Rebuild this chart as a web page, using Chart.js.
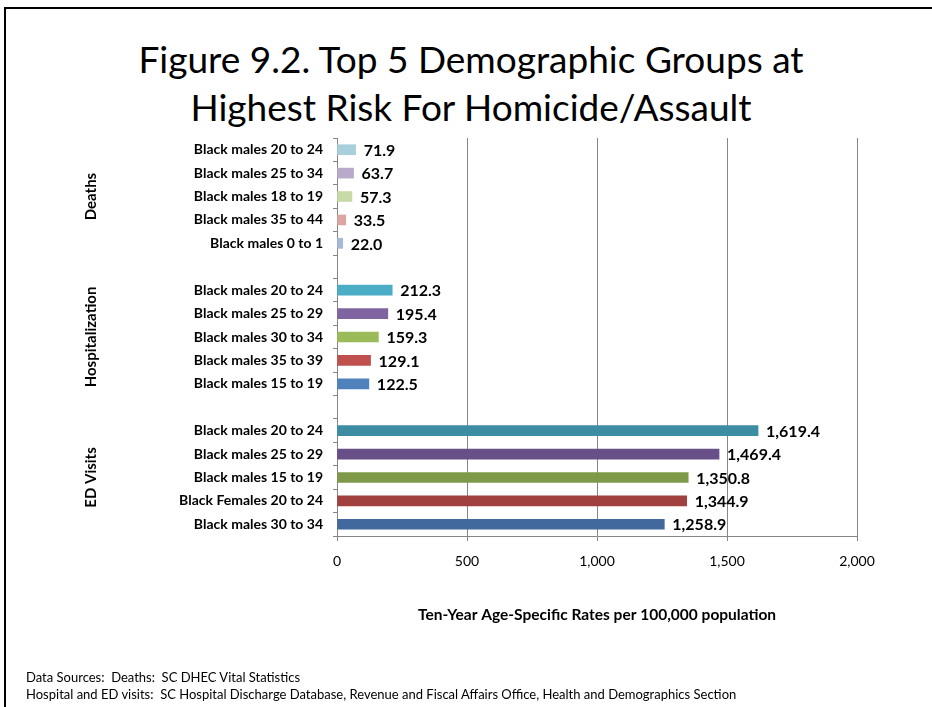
<!DOCTYPE html>
<html>
<head>
<meta charset="utf-8">
<script src="https://cdn.jsdelivr.net/npm/chart.js@4"></script>
<style>
body { margin:0; width:932px; height:707px; overflow:hidden; background:#fff; font-family:Lato, sans-serif; }
.frame { position:absolute; left:4px; top:7px; width:960px; height:740px; border-top:2px solid #000; border-left:2px solid #000; }
.title { position:absolute; left:0; top:35px; width:942px; text-align:center; font-size:37px; line-height:48px; color:#000; }
.src { position:absolute; left:26px; top:669px; font-size:13px; line-height:17px; color:#000; }
canvas { position:absolute; left:0; top:0; }
</style>
</head>
<body>
<div class="frame"></div>
<div class="title">Figure 9.2. Top 5 Demographic Groups at<br>Highest Risk For Homicide/Assault</div>
<canvas id="chart" width="932" height="707"></canvas>
<div class="src">Data Sources:&nbsp; Deaths:&nbsp; SC DHEC Vital Statistics<br>Hospital and ED visits:&nbsp; SC Hospital Discharge Database, Revenue and Fiscal Affairs Office, Health and Demographics Section</div>
<script>
const groups = ['Deaths', 'Hospitalization', 'ED Visits'];
const deathLabels = ['Black males 20 to 24', 'Black males 25 to 34', 'Black males 18 to 19', 'Black males 35 to 44', 'Black males 0 to 1'];
const deathValues = [71.9, 63.7, 57.3, 33.5, 22.0];
const hospLabels = ['Black males 20 to 24', 'Black males 25 to 29', 'Black males 30 to 34', 'Black males 35 to 39', 'Black males 15 to 19'];
const hospValues = [212.3, 195.4, 159.3, 129.1, 122.5];
const edLabels = ['Black males 20 to 24', 'Black males 25 to 29', 'Black males 15 to 19', 'Black Females 20 to 24', 'Black males 30 to 34'];
const edValues = [1619.4, 1469.4, 1350.8, 1344.9, 1258.9];
const xTicks = [0, 500, 1000, 1500, 2000];

const deathColors = ['#A9CFDC', '#B9AACB', '#C8DAA6', '#DDA4A2', '#A7B9DB'];
const hospColors = ['#4BACC6', '#8064A2', '#9BBB59', '#C0504D', '#4F81BD'];
const edColors = ['#3C8DA3', '#694F87', '#7E9A48', '#A0413F', '#41699E'];

// one empty slot between each group
const labels = [...deathLabels, '', ...hospLabels, '', ...edLabels];
const values = [...deathValues, null, ...hospValues, null, ...edValues];
const colors = [...deathColors, '#fff', ...hospColors, '#fff', ...edColors];

Chart.defaults.font.family = 'Lato';

const valueLabels = {
	id: 'valueLabels',
	afterDatasetsDraw(chart) {
		const ctx = chart.ctx;
		const meta = chart.getDatasetMeta(0);
		ctx.save();
		ctx.font = 'bold 16px Lato';
		ctx.fillStyle = '#000';
		ctx.textAlign = 'left';
		ctx.textBaseline = 'middle';
		meta.data.forEach(function(bar, i) {
			const v = values[i];
			if (v == null) return;
			ctx.fillText(v.toLocaleString('en-US', {minimumFractionDigits: 1, maximumFractionDigits: 1}), bar.x + 8, bar.y + 1);
		});
		ctx.restore();
	}
};

const groupLabels = {
	id: 'groupLabels',
	afterDraw(chart) {
		const ctx = chart.ctx;
		const y = chart.scales.y;
		ctx.save();
		ctx.font = 'bold 15px Lato';
		ctx.fillStyle = '#000';
		ctx.textAlign = 'center';
		ctx.textBaseline = 'middle';
		groups.forEach(function(g, k) {
			const mid = y.getPixelForValue(k * 6 + 2);
			ctx.save();
			ctx.translate(91, mid);
			ctx.rotate(-Math.PI / 2);
			ctx.fillText(g, 0, 0);
			ctx.restore();
		});
		ctx.restore();
	}
};

const chart = new Chart(document.getElementById('chart'), {
	type: 'bar',
	data: {
		labels: labels,
		datasets: [{
			data: values,
			backgroundColor: colors,
			barThickness: 10
		}]
	},
	options: {
		indexAxis: 'y',
		responsive: false,
		animation: false,
		layout: { padding: { top: 138, right: 75, left: 0, bottom: 0 } },
		plugins: { legend: { display: false }, tooltip: { enabled: false } },
		scales: {
			x: {
				min: xTicks[0],
				max: xTicks[xTicks.length - 1],
				afterBuildTicks: function(s) { s.ticks = xTicks.map(v => ({ value: v })); },
				ticks: { color: '#000', font: { size: 14 }, padding: 12 },
				grid: { color: '#868686', tickLength: 5 },
				border: { color: '#868686' },
				title: {
					display: true,
					text: 'Ten-Year Age-Specific Rates per 100,000 population',
					color: '#000',
					font: { size: 15.5, weight: 'bold' },
					padding: { top: 0, bottom: 83 }
				},
				afterFit: function(s) { s.height = 171; }
			},
			y: {
				ticks: { color: '#000', font: { size: 14, weight: 'bold' }, padding: 10, autoSkip: false },
				grid: { drawOnChartArea: false, color: '#868686', tickLength: 4 },
				border: { color: '#868686' },
				afterFit: function(s) { s.width = 337; }
			}
		}
	},
	plugins: [valueLabels, groupLabels]
});
</script>
</body>
</html>
